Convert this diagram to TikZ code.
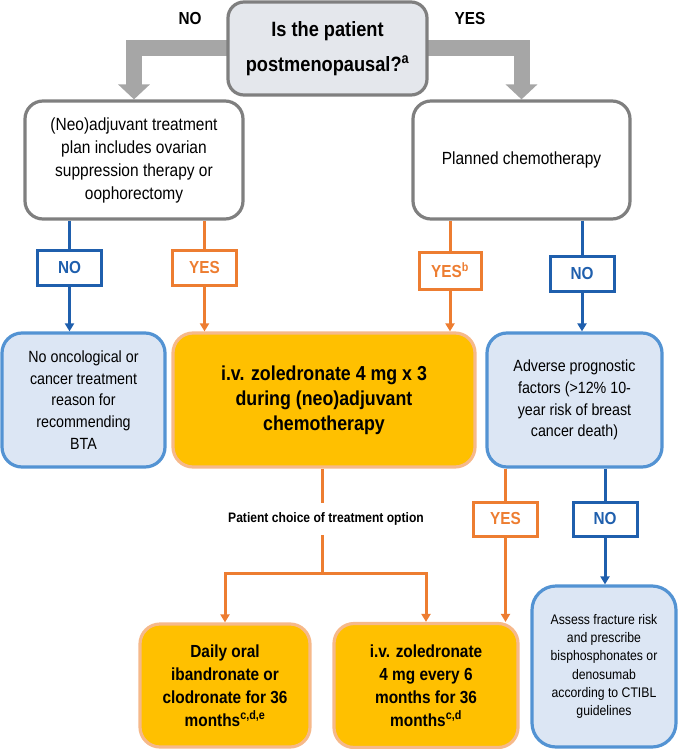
\documentclass[tikz,border=0pt]{standalone}
\usepackage{fontspec}
\setmainfont{Liberation Sans}[FakeStretch=0.88]
\usepackage{xcolor}
\usetikzlibrary{arrows.meta}
\usetikzlibrary{backgrounds}
\definecolor{figgrayline}{HTML}{7F7F7F}
\definecolor{figgrayarrow}{HTML}{A6A6A6}
\definecolor{figaskfill}{HTML}{E4E7EC}
\definecolor{figblueline}{HTML}{1F5FAD}
\definecolor{figbluebox}{HTML}{5393D3}
\definecolor{figbluefill}{HTML}{DCE6F4}
\definecolor{figorangeline}{HTML}{ED7D31}
\definecolor{figorangefill}{HTML}{FFC000}
\definecolor{figorangebox}{HTML}{F6B98A}

\begin{document}
\begin{tikzpicture}[x=1pt,y=-1pt,
    graybox/.style={draw=figgrayline,line width=3.2pt,rounded corners=18pt,fill=white,align=center,inner sep=0pt},
    bluebox/.style={draw=figbluebox,line width=3.2pt,rounded corners=20pt,fill=figbluefill,align=center,inner sep=0pt},
    orangebox/.style={draw=figorangebox,line width=3.2pt,rounded corners=20pt,fill=figorangefill,align=center,inner sep=0pt},
    bluetag/.style={draw=figblueline,line width=3pt,text=figblueline,font=\fontsize{17.4}{20}\selectfont\bfseries,inner sep=0pt,minimum width=64pt,minimum height=35pt},
    orangetag/.style={draw=figorangeline,line width=3pt,text=figorangeline,font=\fontsize{17.4}{20}\selectfont\bfseries,inner sep=0pt,minimum width=64pt,minimum height=35pt},
    blueline/.style={draw=figblueline,line width=3pt},
    orangeline/.style={draw=figorangeline,line width=3pt},
    tip/.style={-{Triangle[width=9pt,length=8pt]}},
    bigarrow/.style={draw=figgrayarrow,line width=16pt,-{Triangle[width=31pt,length=15pt]}}]
        \newcommand{\figflowyask}{48.5}
        \newcommand{\figflowyplan}{160}
        \newcommand{\figflowyplanh}{118}
        \newcommand{\figflowymid}{400}
        \newcommand{\figflowymidh}{134}
        \newcommand{\figflowytagb}{519}
        \newcommand{\figflowybot}{685.5}
        \useasboundingbox (0,0) rectangle (677,749);
        % question at the top
        \node[graybox,fill=figaskfill,rounded corners=16pt,minimum width=199pt,minimum height=93pt,
              font=\fontsize{20.7}{35}\selectfont\bfseries] (ask) at (327.5,\figflowyask)
              {Is the patient\\postmenopausal?\textsuperscript{a}};
        \node[font=\fontsize{17.4}{20}\selectfont\bfseries] (lblno) at (190,19) {NO};
        \node[font=\fontsize{17.4}{20}\selectfont\bfseries] (lblyes) at (470,19) {YES};
        \node[graybox,minimum width=218pt,minimum height=\figflowyplanh pt,
              font=\fontsize{17.6}{23}\selectfont] (ovar) at (134,\figflowyplan)
              {(Neo)adjuvant treatment\\plan includes ovarian\\suppression therapy or\\oophorectomy};
        \node[graybox,minimum width=217pt,minimum height=\figflowyplanh pt,
              font=\fontsize{17.6}{23}\selectfont] (chemo) at (521.5,\figflowyplan)
              {Planned chemotherapy};
        \begin{scope}[on background layer]
            \draw[bigarrow] (ask.center) -| (ovar.north);
            \draw[bigarrow] (ask.center) -| (chemo.north);
        \end{scope}
        % answer tags
        \node[bluetag] (noa) at (69.5,267.5) {NO};
        \node[orangetag] (yesa) at (204.5,267.5) {YES};
        \node[orangetag,minimum width=62pt,minimum height=37pt] (yesb) at (450,270.5) {YES\textsuperscript{b}};
        \node[bluetag] (nob) at (582,273.5) {NO};
        % middle row
        \node[bluebox,minimum width=163pt,minimum height=\figflowymidh pt,
              font=\fontsize{16.2}{21.8}\selectfont] (nobta) at (83.5,\figflowymid)
              {No oncological or\\cancer treatment\\reason for\\recommending\\BTA};
        \node[orangebox,minimum width=302pt,minimum height=\figflowymidh pt,
              font=\fontsize{20.2}{25}\selectfont\bfseries] (zolthree) at (324,\figflowymid)
              {i.v. zoledronate 4 mg x 3\\during (neo)adjuvant\\chemotherapy};
        \node[bluebox,minimum width=175pt,minimum height=\figflowymidh pt,
              font=\fontsize{16.2}{21.8}\selectfont] (adverse) at (574.5,\figflowymid)
              {Adverse prognostic\\factors (>12\% 10-\\year risk of breast\\cancer death)};
        \node[font=\fontsize{13.75}{16}\selectfont\bfseries,minimum height=32pt,inner sep=0pt] (choice) at (326,\figflowytagb)
              {Patient choice of treatment option};
        \node[orangetag,minimum height=34pt] (yesc) at (505.5,\figflowytagb) {YES};
        \node[bluetag,minimum height=34pt] (noc) at (605,\figflowytagb) {NO};
        % bottom row
        \node[orangebox,minimum width=170pt,minimum height=123pt,
              font=\fontsize{17.5}{23}\selectfont\bfseries] (daily) at (225,\figflowybot)
              {Daily oral\\ibandronate or\\clodronate for 36\\months\textsuperscript{c,d,e}};
        \node[orangebox,minimum width=184pt,minimum height=124pt,
              font=\fontsize{17.5}{23}\selectfont\bfseries] (zolsix) at (426,\figflowybot)
              {i.v. zoledronate\\4 mg every 6\\months for 36\\months\textsuperscript{c,d}};
        \node[bluebox,rounded corners=24pt,minimum width=144pt,minimum height=161pt,
              font=\fontsize{13.9}{18.3}\selectfont] (assess) at (604,666.5)
              {Assess fracture risk\\and prescribe\\bisphosphonates or\\denosumab\\according to CTIBL\\guidelines};
        % connectors
        \draw[blueline] (noa.north |- ovar.south) -- (noa.north);
        \draw[blueline,tip] (noa.south) -- (noa.south |- nobta.north);
        \draw[orangeline] (yesa.north |- ovar.south) -- (yesa.north);
        \draw[orangeline,tip] (yesa.south) -- (yesa.south |- zolthree.north);
        \draw[orangeline] (yesb.north |- chemo.south) -- (yesb.north);
        \draw[orangeline,tip] (yesb.south) -- (yesb.south |- zolthree.north);
        \draw[blueline] (nob.north |- chemo.south) -- (nob.north);
        \draw[blueline,tip] (nob.south) -- (nob.south |- adverse.north);
        \draw[orangeline] (yesc.north |- adverse.south) -- (yesc.north);
        \draw[orangeline,tip] (yesc.south) -- (yesc.south |- zolsix.north);
        \draw[blueline] (noc.north |- adverse.south) -- (noc.north);
        \draw[blueline,tip] (noc.south) -- (noc.south |- assess.north);
        \coordinate (split) at (322,573);
        \draw[orangeline] (split |- zolthree.south) -- (split |- choice.north);
        \draw[orangeline] (split |- choice.south) -- (split);
        \draw[orangeline,tip] (split) -| (daily.north);
        \draw[orangeline,tip] (split) -| (zolsix.north);
\end{tikzpicture}
\end{document}
